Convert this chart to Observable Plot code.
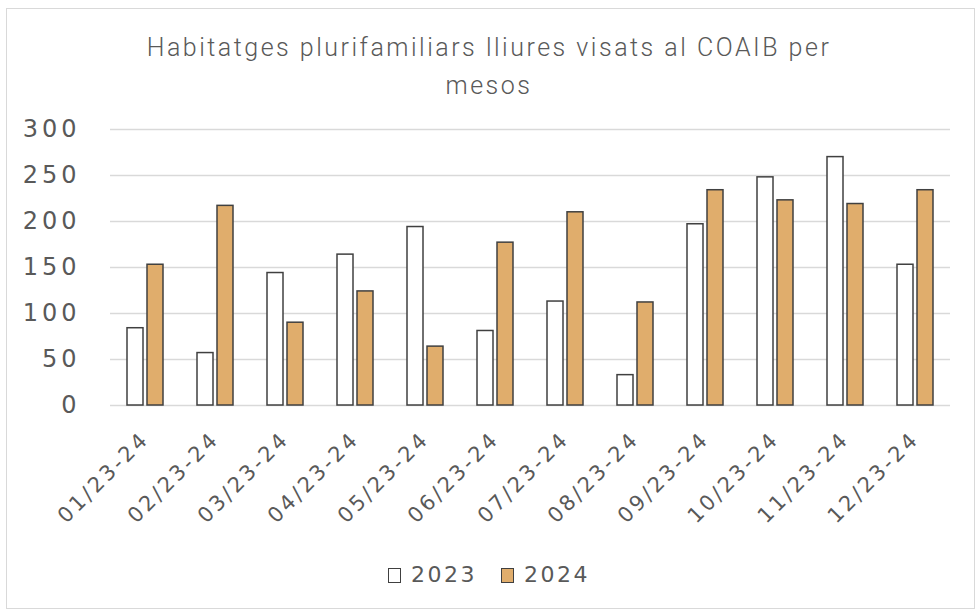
<!DOCTYPE html>
<html><head><meta charset="utf-8">
<script src="https://cdn.jsdelivr.net/npm/d3@7"></script>
<script src="https://cdn.jsdelivr.net/npm/@observablehq/plot@0.6"></script>
<style>
body{margin:0;background:#fff;width:978px;height:611px;overflow:hidden;position:relative;font-family:"DejaVu Sans",sans-serif;}
#frame{position:absolute;left:6px;top:8px;width:969px;height:601px;border:1px solid #d9d9d9;box-sizing:border-box;}
#title{position:absolute;left:0;top:29px;width:978px;text-align:center;font-family:Roboto,sans-serif;font-weight:300;font-size:25px;line-height:38px;color:#595959;letter-spacing:2.5px;}
#chart{position:absolute;left:0;top:110px;}
#legend{position:absolute;top:562px;left:0;width:978px;text-align:center;font-family:"DejaVu Sans",sans-serif;font-size:22px;color:#595959;letter-spacing:2.5px;}
.sw{display:inline-block;width:11px;height:13px;border:1.5px solid #404040;vertical-align:-1px;margin-right:10px;}
.item{margin:0 12px;}
#chart [aria-label="y-axis tick label"] text{letter-spacing:4px;}
#chart [aria-label="fx-axis tick label"] text{letter-spacing:3px;}
</style>
</head><body>
<div id="frame"></div>
<div id="title">Habitatges plurifamiliars lliures visats al COAIB per<br>mesos</div>
<div id="chart"></div>
<div id="legend"></div>
<script>
const months = ["01/23-24","02/23-24","03/23-24","04/23-24","05/23-24","06/23-24","07/23-24","08/23-24","09/23-24","10/23-24","11/23-24","12/23-24"];
const years = ["2023","2024"];
const values2023 = [84,57,144,164,194,81,113,33,197,248,270,153];
const values2024 = [153,217,90,124,64,177,210,112,234,223,219,234];
const yTicks = [0,50,100,150,200,250,300];
const colors = ["#ffffff","#e0ad6c"];

const data = [];
months.forEach((m,i)=>{
  data.push({month:m,year:years[0],value:values2023[i]});
  data.push({month:m,year:years[1],value:values2024[i]});
});

const chart = Plot.plot({
  width:978, height:450,
  marginLeft:105, marginRight:23, marginTop:19, marginBottom:155,
  style:{background:"transparent"},
  fx:{domain:months, padding:0, label:null},
  x:{domain:years, axis:null, paddingInner:0.19, paddingOuter:0.78},
  y:{domain:[0,300], label:null},
  color:{domain:years, range:colors},
  marks:[
    Plot.ruleY(yTicks,{stroke:"#d9d9d9", strokeWidth:1.5}),
    Plot.barY(data,{fx:"month", x:"year", y:"value", fill:"year", stroke:"#404040", strokeWidth:1.5}),
    Plot.axisY({ticks:yTicks, tickSize:0, tickPadding:30, label:null, fontSize:24, fill:"#595959", fontFamily:"DejaVu Sans"}),
    Plot.axisFx({anchor:"bottom", tickRotate:-45, tickSize:0, tickPadding:30, label:null, fontSize:21, fill:"#595959", fontFamily:"DejaVu Sans", dx:0})
  ]
});
document.getElementById("chart").appendChild(chart);

const leg = document.getElementById("legend");
years.forEach((y,i)=>{
  const s = document.createElement("span");
  s.className="item";
  s.innerHTML = `<span class="sw" style="background:${colors[i]}"></span>${y}`;
  leg.appendChild(s);
});
</script>
</body></html>
